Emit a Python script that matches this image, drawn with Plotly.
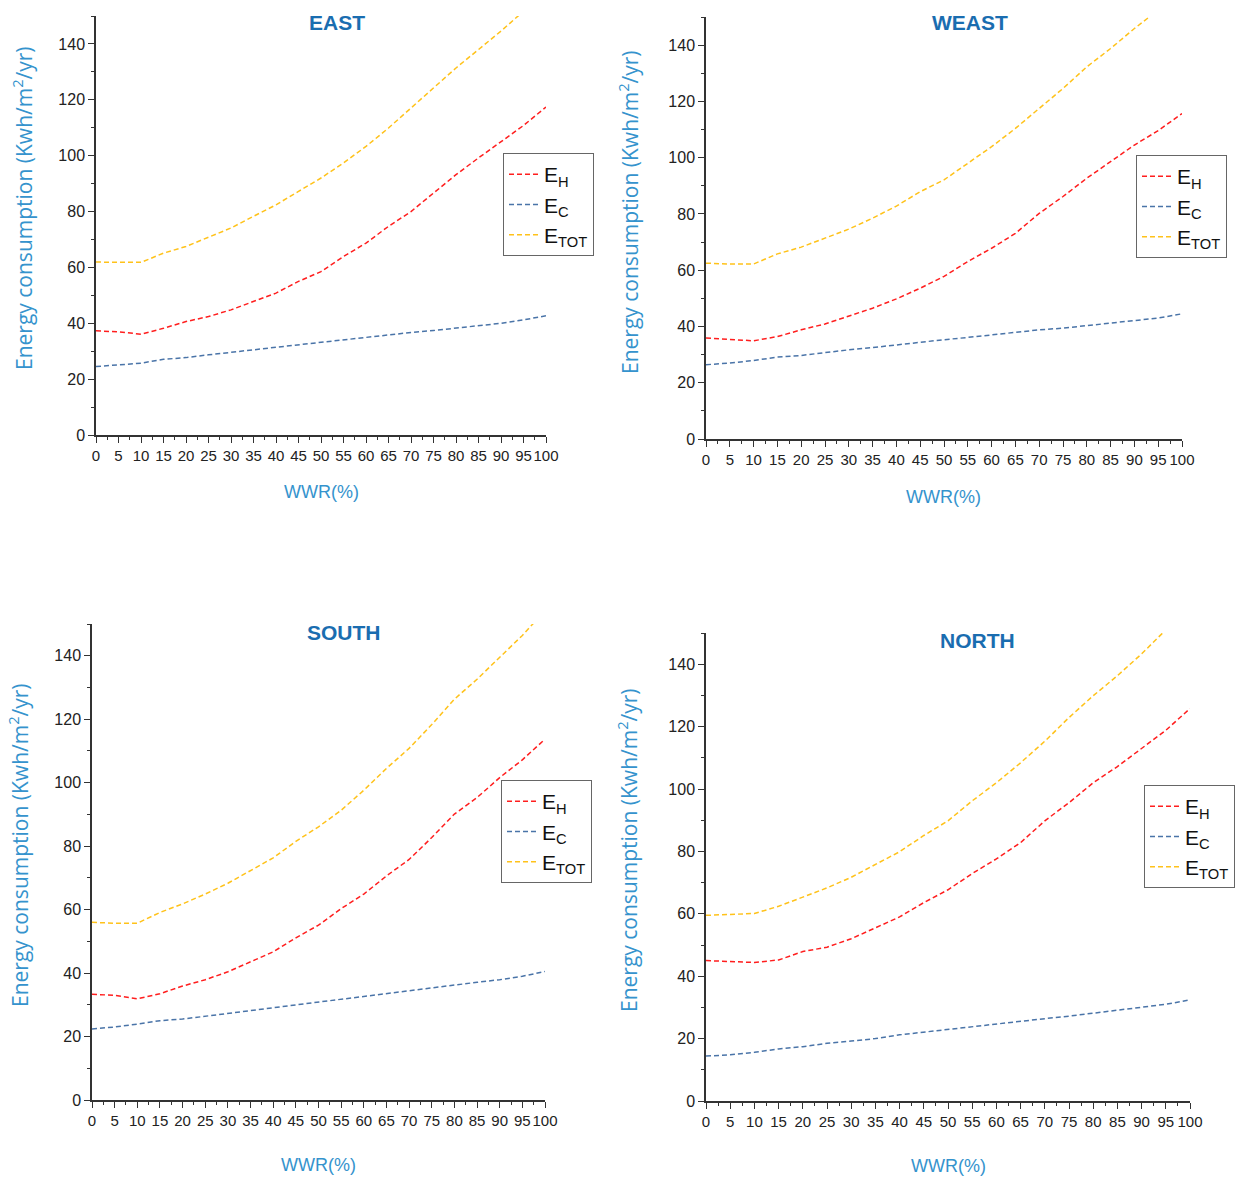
import plotly.graph_objects as go

W, H = 1245, 1180

wwr = [0, 5, 10, 15, 20, 25, 30, 35, 40, 45, 50, 55, 60, 65, 70, 75, 80, 85, 90, 95, 100]

east_eh = [37.3, 36.9, 36.1, 38.2, 40.6, 42.4, 44.8, 47.8, 50.8, 55.0, 58.5, 63.9, 68.7, 74.7, 80.0, 86.6, 93.2, 99.2, 105.1, 110.8, 117.4]
east_ec = [24.5, 25.0, 25.7, 27.1, 27.7, 28.7, 29.5, 30.5, 31.4, 32.3, 33.1, 34.0, 34.9, 35.8, 36.7, 37.4, 38.2, 39.1, 40.0, 41.2, 42.7]
east_et = [61.9, 61.9, 61.8, 65.1, 67.5, 70.8, 74.1, 78.3, 82.4, 87.2, 92.0, 97.4, 103.3, 109.9, 117.1, 124.3, 131.4, 138.0, 144.6, 151.7, 160.0]

weast_eh = [35.9, 35.5, 34.9, 36.4, 38.8, 40.9, 43.6, 46.5, 49.8, 53.6, 57.8, 63.1, 67.8, 73.1, 80.2, 86.2, 92.7, 98.6, 104.5, 109.6, 115.7]
weast_ec = [26.4, 27.0, 27.9, 29.1, 29.7, 30.8, 31.7, 32.5, 33.5, 34.3, 35.3, 36.1, 37.0, 37.9, 38.8, 39.4, 40.4, 41.2, 42.1, 43.0, 44.5]
weast_et = [62.5, 62.2, 62.2, 65.8, 68.2, 71.4, 74.6, 78.5, 82.8, 87.9, 92.1, 98.0, 103.9, 110.4, 117.5, 124.6, 132.3, 138.8, 145.9, 152.5, 160.2]

south_eh = [33.3, 33.0, 31.9, 33.5, 35.9, 37.9, 40.4, 43.6, 46.7, 51.1, 55.1, 60.3, 64.9, 70.6, 75.8, 82.7, 90.1, 95.3, 101.6, 107.2, 113.7]
south_ec = [22.4, 23.0, 23.9, 25.0, 25.5, 26.4, 27.3, 28.1, 29.0, 30.1, 31.0, 31.8, 32.7, 33.5, 34.4, 35.4, 36.2, 37.1, 37.9, 39.0, 40.5]
south_et = [56.0, 55.7, 55.7, 59.1, 61.8, 64.9, 68.3, 72.3, 76.3, 81.5, 86.1, 91.3, 97.6, 104.5, 110.8, 118.3, 126.3, 132.6, 139.5, 146.4, 154.2]

north_eh = [45.0, 44.8, 44.4, 45.2, 47.9, 49.3, 52.0, 55.5, 59.0, 63.6, 67.7, 72.9, 77.6, 82.8, 89.8, 95.6, 102.0, 107.2, 113.0, 118.8, 125.8]
north_ec = [14.4, 14.8, 15.6, 16.7, 17.4, 18.5, 19.2, 20.0, 21.2, 22.1, 22.9, 23.8, 24.7, 25.6, 26.4, 27.2, 28.1, 29.1, 29.9, 31.0, 32.4]
north_et = [59.5, 59.8, 60.1, 62.4, 65.3, 68.3, 71.7, 75.8, 79.9, 85.1, 89.8, 96.2, 102.0, 108.4, 115.3, 122.9, 129.9, 136.3, 143.3, 151.0, 158.2]

panel_titles = ["EAST", "WEAST", "SOUTH", "NORTH"]
series_names = ["E<sub>H</sub>", "E<sub>C</sub>", "E<sub>TOT</sub>"]
series_colors = ["#FF1E1E", "#4A74A8", "#FFC21A"]
y_title = "Energy consumption (Kwh/m<sup>2</sup>/yr)"
x_title = "WWR(%)"
x_ticks = list(range(0, 101, 5))
y_ticks = list(range(0, 141, 20))

panels = [
    dict(data=[east_eh, east_ec, east_et], px=(96, 546), py=(16, 435),
         title=(337, 22), ytl=(22, 208), xtl=(321, 492), leg=(503, 153)),
    dict(data=[weast_eh, weast_ec, weast_et], px=(706, 1182), py=(17, 439),
         title=(970, 23), ytl=(628, 212), xtl=(943, 497), leg=(1136, 155)),
    dict(data=[south_eh, south_ec, south_et], px=(92, 545), py=(624, 1100),
         title=(344, 632), ytl=(18, 845), xtl=(318, 1165), leg=(501, 780)),
    dict(data=[north_eh, north_ec, north_et], px=(706, 1190), py=(633, 1101),
         title=(977, 640), ytl=(627, 850), xtl=(948, 1166), leg=(1144, 785)),
]

SANS = "Liberation Sans, Arial, sans-serif"
fig = go.Figure()
annotations = []
layout = {}


def fx(p):
    return p / W


def fy(p):
    return 1 - p / H


for i, p in enumerate(panels):
    k = "" if i == 0 else str(i + 1)
    leg = "legend" if i == 0 else f"legend{i + 1}"
    for name, col, vals in zip(series_names, series_colors, p["data"]):
        fig.add_trace(go.Scatter(
            x=wwr, y=vals, mode="lines", name=name,
            line=dict(color=col, width=1.5, dash="5px,3px"),
            xaxis="x" + k, yaxis="y" + k, legend=leg, cliponaxis=True,
        ))
    axis_common = dict(
        showline=True, linecolor="#333333", linewidth=1.5, ticks="outside",
        tickcolor="#333333", ticklen=6, tickwidth=1.3, showgrid=False, zeroline=False,
        automargin=False,
    )
    layout["xaxis" + k] = dict(
        axis_common, domain=[fx(p["px"][0]), fx(p["px"][1])], range=[0, 100],
        tickvals=x_ticks, ticktext=[str(t) for t in x_ticks], anchor="y" + k,
        tickangle=0,
        minor=dict(dtick=2.5, ticklen=3, tickcolor="#333333", ticks="outside"),
        tickfont=dict(family=SANS, size=15, color="#222222"),
    )
    layout["yaxis" + k] = dict(
        axis_common, domain=[fy(p["py"][1]), fy(p["py"][0])], range=[0, 150],
        tickvals=y_ticks, anchor="x" + k,
        minor=dict(dtick=10, ticklen=3, tickcolor="#333333", ticks="outside"),
        tickfont=dict(family=SANS, size=16, color="#222222"),
    )
    layout[leg] = dict(
        x=fx(p["leg"][0]), y=fy(p["leg"][1]), xanchor="left", yanchor="top",
        xref="paper", yref="paper",
        bordercolor="#666666", borderwidth=1, bgcolor="white",
        font=dict(family=SANS, size=21, color="#111111"),
        tracegroupgap=0, itemwidth=30,
    )
    annotations.append(dict(
        text="<b>" + panel_titles[i] + "</b>", x=fx(p["title"][0]), y=fy(p["title"][1]),
        xref="paper", yref="paper", showarrow=False, xanchor="center", yanchor="middle",
        font=dict(family=SANS, size=21, color="#1A6DB0"),
    ))
    annotations.append(dict(
        text=y_title, x=fx(p["ytl"][0]), y=fy(p["ytl"][1]), textangle=-90,
        xref="paper", yref="paper", showarrow=False, xanchor="center", yanchor="middle",
        font=dict(family="Open Sans, sans-serif", size=21, color="#3593CD"),
    ))
    annotations.append(dict(
        text=x_title, x=fx(p["xtl"][0]), y=fy(p["xtl"][1]),
        xref="paper", yref="paper", showarrow=False, xanchor="center", yanchor="middle",
        font=dict(family=SANS, size=18, color="#3593CD"),
    ))

fig.update_layout(
    width=W, height=H, margin=dict(l=0, r=0, t=0, b=0, autoexpand=False),
    paper_bgcolor="white", plot_bgcolor="white", showlegend=True,
    annotations=annotations, **layout,
)
fig.write_html(
    "out.html",
    config={"displayModeBar": False},
    post_script="document.body.style.margin='0';document.body.style.overflow='hidden';",
)
